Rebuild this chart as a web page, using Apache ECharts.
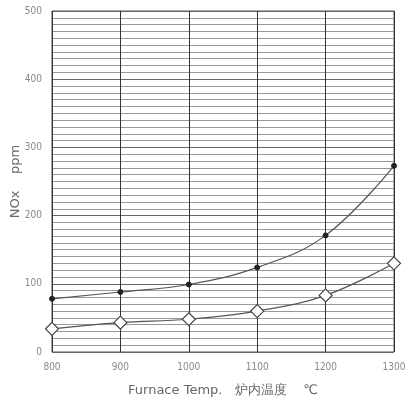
<!DOCTYPE html>
<html>
<head>
<meta charset="utf-8">
<script src="https://cdn.jsdelivr.net/npm/echarts@6/dist/echarts.min.js"></script>
<style>
  html, body { margin: 0; padding: 0; background: #fff; }
  #chart { width: 405px; height: 400px; }
</style>
</head>
<body>
<div id="chart"></div>
<script>
const temps = [800, 900, 1000, 1100, 1200, 1300];
const noxUpper = [78, 88, 99, 124, 171, 273];
const noxLower = [34, 43, 48, 60, 83, 130];

const chart = echarts.init(document.getElementById('chart'));

function pairs(ys) {
    return temps.map((t, i) => [t, ys[i]]);
}

chart.setOption({
    backgroundColor: '#fff',
    animation: false,
    grid: {
        left: 52, right: 11, top: 11, bottom: 48,
        outerBoundsMode: 'none',
        containLabel: false,
        show: true, borderColor: '#555', borderWidth: 1
    },
    xAxis: {
        type: 'value', min: 800, max: 1300, interval: 100,
        name: 'Furnace Temp.   炉内温度    ℃',
        nameLocation: 'middle', nameGap: 32,
        nameMoveOverlap: false,
        nameTextStyle: { color: '#666', fontSize: 13, fontFamily: 'DejaVu Sans' },
        axisLine: { show: false },
        axisTick: { show: false },
        axisLabel: {
            color: '#888', fontSize: 10, margin: 10, fontFamily: 'DejaVu Sans Condensed',
            formatter: v => String(v)
        },
        splitLine: { show: true, lineStyle: { color: '#333', width: 1 } }
    },
    yAxis: {
        type: 'value', min: 0, max: 500, interval: 100,
        name: 'NOx    ppm',
        nameLocation: 'middle', nameGap: 30,
        nameMoveOverlap: false,
        nameTextStyle: { color: '#666', fontSize: 13, fontFamily: 'DejaVu Sans' },
        axisLine: { show: false },
        axisTick: { show: false },
        axisLabel: { color: '#888', fontSize: 10, margin: 10, fontFamily: 'DejaVu Sans Condensed' },
        splitLine: { show: true, lineStyle: { color: '#666', width: 1 } },
        minorTick: { show: false, splitNumber: 10 },
        minorSplitLine: { show: true, lineStyle: { color: '#999', width: 1 } }
    },
    series: [{
        type: 'line',
        data: pairs(noxUpper),
        smooth: 0.4,
        symbol: 'circle',
        symbolSize: 5,
        lineStyle: { color: '#555', width: 1.2 },
        itemStyle: { color: '#222', borderColor: '#222' }
    }, {
        type: 'line',
        data: pairs(noxLower),
        smooth: 0.4,
        symbol: 'diamond',
        symbolSize: 13,
        lineStyle: { color: '#555', width: 1.2 },
        itemStyle: { color: '#fff', borderColor: '#444', borderWidth: 1.2 }
    }]
});
</script>
</body>
</html>
